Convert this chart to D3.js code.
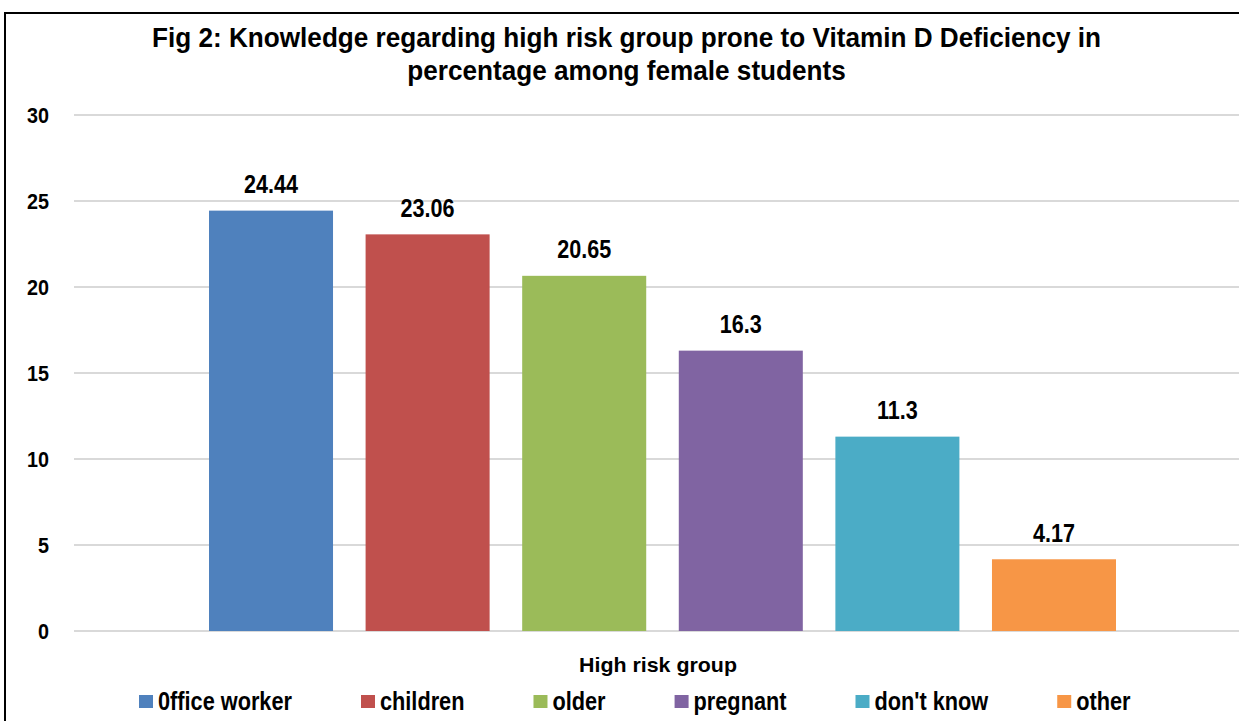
<!DOCTYPE html>
<html><head><meta charset="utf-8">
<script src="https://cdn.jsdelivr.net/npm/d3@7"></script>
<style>
html,body{margin:0;padding:0;background:#fff;}
svg{display:block;}
text{font-family:"Liberation Sans",Arial,sans-serif;font-weight:bold;fill:#000;}
</style></head>
<body>
<svg id="c" width="1239" height="721"></svg>
<script>
const categories = ["0ffice worker","children","older","pregnant","don't know","other"];
const values = [24.44, 23.06, 20.65, 16.3, 11.3, 4.17];
const labels = ["24.44","23.06","20.65","16.3","11.3","4.17"];
const colors = ["#4F81BD","#C0504D","#9BBB59","#8064A2","#4BACC6","#F79646"];
const yTicks = [0,5,10,15,20,25,30];
const titleLines = ["Fig 2: Knowledge regarding high risk group prone to Vitamin D Deficiency in","percentage among female students"];
const xTitle = "High risk group";

const svg = d3.select("#c");

// helper: measure natural width of a string at a font size
function measure(str, size){
  const t = svg.append("text").attr("font-size",size).text(str);
  const w = t.node().getComputedTextLength();
  t.remove();
  return w;
}
// place text with horizontal condensation k
function place(sel, x, y, k){
  sel.attr("x",0).attr("y",0).attr("transform",`translate(${x},${y}) scale(${k},1)`);
}

// frame
svg.append("rect").attr("x",5).attr("y",13).attr("width",1300).attr("height",760)
  .attr("fill","none").attr("stroke","#000").attr("stroke-width",2);

const y = d3.scaleLinear().domain([0,30]).range([631,115]);
const x = d3.scaleBand().domain(categories).range([209,1116]).paddingInner(0.208);

// gridlines
svg.append("g").selectAll("line").data(yTicks).join("line")
  .attr("x1",74).attr("x2",1239).attr("y1",d=>y(d)).attr("y2",d=>y(d))
  .attr("stroke","#d9d9d9").attr("stroke-width",2);

// y axis labels
const tickSize = 22;
const kTick = 22 / measure("30", tickSize);
const yAxis = d3.axisLeft(y).tickValues(yTicks).tickSize(0).tickPadding(0);
const gAxis = svg.append("g").attr("transform","translate(49,0)").call(yAxis);
gAxis.select(".domain").remove();
gAxis.selectAll("text").attr("font-size",tickSize).attr("x",0).attr("dy","0.36em")
  .attr("transform",`scale(${kTick},1)`)
  .style("font-family",'"Liberation Sans",Arial,sans-serif').style("font-weight","bold").style("fill","#000");

// bars
svg.append("g").selectAll("rect").data(values).join("rect")
  .attr("x",(d,i)=>x(categories[i])).attr("width",x.bandwidth())
  .attr("y",d=>y(d)).attr("height",d=>y(0)-y(d))
  .attr("fill",(d,i)=>colors[i]);

// data labels
const lblSize = 25;
const kLbl = 54 / measure("24.44", lblSize);
svg.append("g").selectAll("text").data(values).join("text")
  .attr("text-anchor","middle").attr("font-size",lblSize).text((d,i)=>labels[i])
  .each(function(d,i){ place(d3.select(this), x(categories[i])+x.bandwidth()/2, y(d)-17.5, kLbl); });

// title
const titleSize = 28;
const kTitle = 949 / measure(titleLines[0], titleSize);
svg.append("g").selectAll("text").data(titleLines).join("text")
  .attr("text-anchor","middle").attr("font-size",titleSize).text(d=>d)
  .each(function(d,i){ place(d3.select(this), 626.5, 47+i*33, kTitle); });

// x title
const xtSize = 21;
const kXt = 158 / measure(xTitle, xtSize);
place(svg.append("text").attr("text-anchor","middle").attr("font-size",xtSize).text(xTitle), 658, 672, kXt);

// legend
const legSize = 25;
const kLeg = 134 / measure(categories[0], legSize);
let cx = 139;
const lg = svg.append("g");
categories.forEach((c,i)=>{
  lg.append("rect").attr("x",cx).attr("y",695).attr("width",14).attr("height",13).attr("fill",colors[i]);
  const t = lg.append("text").attr("font-size",legSize).text(c);
  place(t, cx+19, 710, kLeg);
  const w = measure(c, legSize)*kLeg;
  cx = cx + 19 + w + 69;
});
</script>
</body></html>
